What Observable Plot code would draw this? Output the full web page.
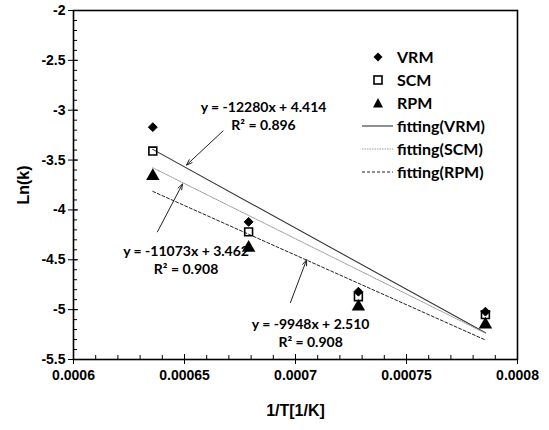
<!DOCTYPE html>
<html><head><meta charset="utf-8">
<script src="https://cdn.jsdelivr.net/npm/d3@7"></script>
<script src="https://cdn.jsdelivr.net/npm/@observablehq/plot@0.6"></script>
<style>
body{margin:0;background:#fff;}
#wrap{position:relative;width:549px;height:430px;overflow:hidden;}
#legend{position:absolute;left:360px;top:44px;}
</style></head><body><div id="wrap"></div>
<script>
// 1/T values (1/K)
const invT = [1/1573, 1/1473, 1/1373, 1/1273];
const seriesNames = ["VRM", "SCM", "RPM"];
const vrm = [-3.17, -4.12, -4.82, -5.02];
const scm = [-3.41, -4.22, -4.87, -5.05];
const rpm = [-3.66, -4.38, -4.97, -5.15];
const fitNames = ["fitting(VRM)", "fitting(SCM)", "fitting(RPM)"];
const fitSlopes = [-12280, -11073, -9948];
const fitIntercepts = [4.414, 3.462, 2.510];
const eqLabels = ["y = -12280x + 4.414", "y = -11073x + 3.462", "y = -9948x + 2.510"];
const r2Labels = ["R² = 0.896", "R² = 0.908", "R² = 0.908"];
const eqX = [0.0006856, 0.0006507, 0.0007068];
const eqY = [-2.97, -4.42, -5.15];
const r2Y = [-3.15, -4.60, -5.33];
const arrowFrom = [[0.0006674, -3.207], [0.0006378, -4.22], [0.0006977, -4.93]];
const arrowTo = [[0.0006509, -3.55], [0.0006491, -3.74], [0.000705, -4.50]];
const xTicks = [0.0006, 0.00065, 0.0007, 0.00075, 0.0008];
const yTicks = [-2, -2.5, -3, -3.5, -4, -4.5, -5, -5.5];
const xMinor = d3.range(0, 21).map(i => +(0.0006 + i * 0.00001).toFixed(5));
const yMinor = d3.range(0, 36).map(i => +(-5.5 + i * 0.1).toFixed(1));

const seriesVals = [vrm, scm, rpm];
const pts = seriesNames.flatMap((s, k) => invT.map((x, i) => ({s, x, y: seriesVals[k][i]})));
const fits = fitNames.flatMap((f, k) => [invT[0], invT[3]].map(x => ({f, x, y: fitSlopes[k] * x + fitIntercepts[k]})));
const ann = eqLabels.map((t, i) => ({t, r2: r2Labels[i], x: eqX[i], y: eqY[i], y2: r2Y[i]}));
const arr = arrowFrom.map((a, i) => ({x1: a[0], y1: a[1], x2: arrowTo[i][0], y2: arrowTo[i][1]}));

const fitStyle = {
  "fitting(VRM)": {stroke: "#333", dash: null, w: 1.1},
  "fitting(SCM)": {stroke: "#9a9a9a", dash: "1.5,1", w: 1},
  "fitting(RPM)": {stroke: "#222", dash: "3,2", w: 1}
};
const annFont = "Lato, 'Open Sans', sans-serif";
const axFont = "'Liberation Sans', Arial, sans-serif";

const chart = Plot.plot({
  width: 549, height: 430,
  marginLeft: 73, marginRight: 32, marginTop: 10, marginBottom: 71,
  x: {domain: [0.0006, 0.0008]},
  y: {domain: [-5.5, -2]},
  style: {fontFamily: axFont, fontSize: "14px", fontWeight: "bold", color: "black", background: "white"},
  marks: [
    ...fitNames.map(f => Plot.line(fits.filter(d => d.f === f), {x: "x", y: "y", stroke: fitStyle[f].stroke, strokeWidth: fitStyle[f].w, strokeDasharray: fitStyle[f].dash})),
    Plot.dot(pts.filter(d => d.s === "VRM"), {x: "x", y: "y", symbol: "diamond2", fill: "black", stroke: "black", strokeWidth: 1, r: 4}),
    Plot.dot(pts.filter(d => d.s === "SCM"), {x: "x", y: "y", symbol: "square2", fill: "none", stroke: "black", strokeWidth: 1.6, r: 5}),
    Plot.dot(pts.filter(d => d.s === "RPM"), {x: "x", y: "y", symbol: "triangle", fill: "black", r: 5}),
    Plot.arrow(arr, {x1: "x1", y1: "y1", x2: "x2", y2: "y2", stroke: "#222", strokeWidth: 1, headLength: 9, headAngle: 40}),
    Plot.text(ann, {x: "x", y: "y", text: "t", fontFamily: annFont, fontSize: 14, fontWeight: "bold", fill: "black"}),
    Plot.text(ann, {x: "x", y: "y2", text: "r2", fontFamily: annFont, fontSize: 14, fontWeight: "bold", fill: "black"}),
    Plot.axisY(yTicks, {tickSize: 5, tickPadding: 3, tickFormat: d => String(d), label: "Ln(k)", labelAnchor: "center", labelOffset: 56, labelArrow: "none"}),
    Plot.axisY(yMinor, {tickSize: -4, fill: "none", label: null}),
    Plot.axisY(yTicks, {tickSize: -5, fill: "none", label: null}),
    Plot.axisX(xTicks, {tickSize: 5, tickPadding: 6, tickFormat: d => String(d), label: "1/T[1/K]", labelAnchor: "center", labelOffset: 56, labelArrow: "none"}),
    Plot.axisX(xMinor, {tickSize: -4, fill: "none", label: null}),
    Plot.axisX(xTicks, {tickSize: -5, fill: "none", label: null}),
    Plot.frame({stroke: "black", strokeWidth: 1.6})
  ]
});
const wrap = document.getElementById("wrap");
wrap.appendChild(chart);
// axis typography: bold Arial-like tick labels and titles
d3.select(chart).selectAll("g[aria-label$='tick label']")
  .attr("font-family", axFont).attr("font-weight", "bold").attr("font-size", 14)
  .style("font-family", axFont).style("font-weight", "bold").style("font-size", "14px");
d3.select(chart).selectAll("g[aria-label$='axis label']")
  .attr("font-family", axFont).attr("font-weight", "bold").attr("font-size", 16)
  .style("font-family", axFont).style("font-weight", "bold").style("font-size", "16px");

// legend
const legendItems = [
  {name: seriesNames[0], kind: "diamond"},
  {name: seriesNames[1], kind: "square"},
  {name: seriesNames[2], kind: "triangle"},
  {name: fitNames[0], kind: "line"},
  {name: fitNames[1], kind: "line"},
  {name: fitNames[2], kind: "line"}
];
const lg = d3.select(wrap).append("svg").attr("id", "legend").attr("width", 160).attr("height", 150);
legendItems.forEach((it, i) => {
  const cy = 13 + i * 23;
  const g = lg.append("g").attr("transform", `translate(0,${cy})`);
  if (it.kind === "diamond") g.append("path").attr("d", "M18,-4.5L22.5,0L18,4.5L13.5,0Z").attr("fill", "black");
  if (it.kind === "square") g.append("rect").attr("x", 14).attr("y", -4).attr("width", 8).attr("height", 8).attr("fill", "none").attr("stroke", "black").attr("stroke-width", 1.6);
  if (it.kind === "triangle") g.append("path").attr("d", "M18,-5L23,4.5L13,4.5Z").attr("fill", "black");
  if (it.kind === "line") {
    const st = fitStyle[it.name];
    g.append("line").attr("x1", 2).attr("x2", 33).attr("y1", 0).attr("y2", 0).attr("stroke", st.stroke).attr("stroke-width", st.w).attr("stroke-dasharray", st.dash);
  }
  g.append("text").attr("x", 37).attr("y", 0).attr("dy", "0.35em").attr("font-family", annFont).attr("font-size", 16).attr("font-weight", "bold").text(it.name);
});
</script>
</body></html>
